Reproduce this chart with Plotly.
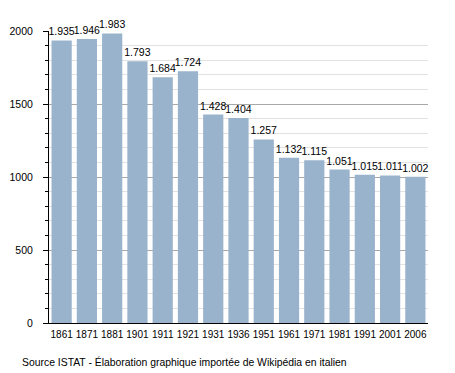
import plotly.graph_objects as go

years = ["1861", "1871", "1881", "1901", "1911", "1921", "1931", "1936",
         "1951", "1961", "1971", "1981", "1991", "2001", "2006"]
population = [1935, 1946, 1983, 1793, 1684, 1724, 1428, 1404,
              1257, 1132, 1115, 1051, 1015, 1011, 1002]
value_labels = [f"{v:,}".replace(",", ".") for v in population]

FONT = "Liberation Sans, Arial, sans-serif"

fig = go.Figure()
fig.add_trace(go.Bar(
    x=years, y=population,
    text=value_labels, textposition="outside",
    textfont=dict(family=FONT, size=10.5, color="#000"),
    constraintext="none", cliponaxis=False,
    marker=dict(color="#9ab3cd", line=dict(width=0)),
    hoverinfo="skip",
))

fig.update_layout(
    width=455, height=373,
    margin=dict(l=49, r=27, t=31, b=50, autoexpand=False),
    paper_bgcolor="white", plot_bgcolor="white",
    bargap=0.2, showlegend=False,
    font=dict(family=FONT, size=10, color="#000"),
    annotations=[dict(
        text="Source ISTAT - Élaboration graphique importée de Wikipédia en italien",
        xref="paper", yref="paper", x=-29/379, y=-39/292,
        xanchor="left", yanchor="middle", showarrow=False,
        font=dict(family=FONT, size=10.4, color="#000"),
    )],
)
fig.update_xaxes(
    showline=True, linecolor="#000", linewidth=1,
    ticks="", showgrid=False, tickangle=0, automargin=False,
    ticklabelstandoff=2,
    tickfont=dict(family=FONT, size=10),
)
fig.update_yaxes(
    range=[0, 2000], dtick=500, automargin=False,
    showline=True, linecolor="#000", linewidth=1,
    ticks="outside", ticklen=5, tickcolor="#000",
    ticklabelstandoff=8,
    showgrid=True, gridcolor="#a8a8a8", gridwidth=1,
    zeroline=False,
    minor=dict(dtick=100, ticks="outside", ticklen=3, tickcolor="#000",
               showgrid=True, gridcolor="#e2e2e2", gridwidth=1),
    tickfont=dict(family=FONT, size=10.5),
)

fig.write_html("out.html",
               config={"displayModeBar": False, "staticPlot": True},
               post_script="document.body.style.margin='0';document.body.style.padding='0';")
